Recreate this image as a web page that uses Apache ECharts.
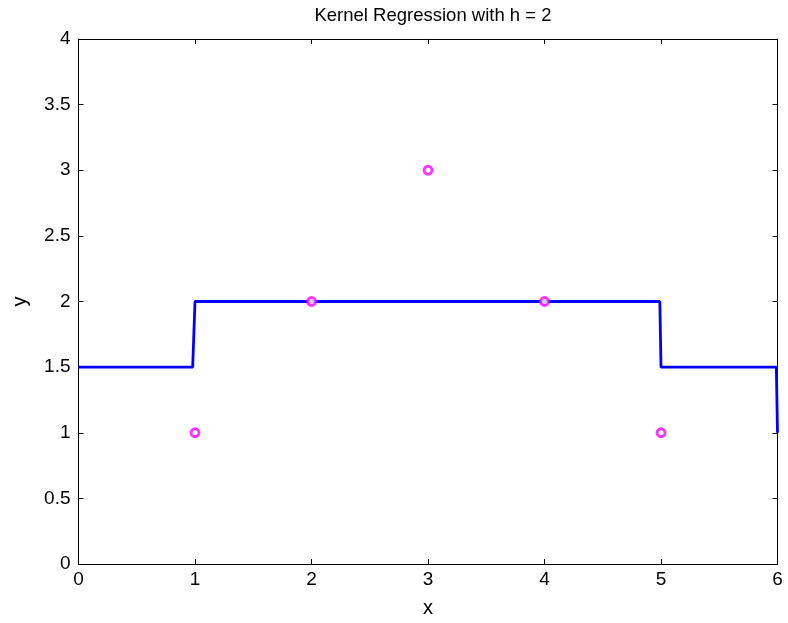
<!DOCTYPE html>
<html>
<head>
<meta charset="utf-8">
<script src="https://cdn.jsdelivr.net/npm/echarts@6/dist/echarts.min.js"></script>
<style>
  html, body { margin: 0; padding: 0; background: #fff; }
  #main { width: 788px; height: 623px; }
</style>
</head>
<body>
<div id="main"></div>
<script>
// data points (x, y)
var pointX = [1, 2, 3, 4, 5];
var pointY = [1, 2, 3, 2, 1];
// kernel regression curve
var curveX = [0, 0.98, 1, 4.99, 5, 5.99, 6];
var curveY = [1.5, 1.5, 2, 2, 1.5, 1.5, 1];

var font = "'Liberation Sans', Arial, Helvetica, sans-serif";

var chart = echarts.init(document.getElementById('main'));

var pts = pointX.map(function (x, i) { return [x, pointY[i]]; });
var curve = curveX.map(function (x, i) { return [x, curveY[i]]; });

function axisBase(show) {
  return {
    type: 'value',
    axisLine: { show: true, onZero: false, lineStyle: { color: '#000', width: 1 } },
    axisTick: { show: true, inside: true, length: 5, lineStyle: { color: '#000' } },
    splitLine: { show: false },
    axisLabel: { show: show, color: '#000', fontSize: 19, fontFamily: font }
  };
}

var option = {
  animation: false,
  backgroundColor: '#fff',
  title: {
    text: 'Kernel Regression with h = 2',
    left: 428,
    textAlign: 'center',
    top: 1,
    textStyle: { fontSize: 18.5, fontWeight: 'normal', color: '#000', fontFamily: font }
  },
  grid: { left: 78.5, right: 10.5, top: 39, bottom: 59, containLabel: false },
  xAxis: [
    Object.assign(axisBase(true), {
      min: 0, max: 6, interval: 1, position: 'bottom',
      name: 'x', nameLocation: 'middle', nameGap: 34,
      nameTextStyle: { fontSize: 20, color: '#000', fontFamily: font },
      axisLabel: { show: true, color: '#000', fontSize: 19, fontFamily: font, margin: 6 }
    }),
    Object.assign(axisBase(false), { min: 0, max: 6, interval: 1, position: 'top' })
  ],
  yAxis: [
    Object.assign(axisBase(true), {
      min: 0, max: 4, interval: 0.5, position: 'left',
      name: 'y', nameLocation: 'middle', nameGap: 48, nameRotate: 90,
      nameTextStyle: { fontSize: 20, color: '#000', fontFamily: font },
      axisLabel: { show: true, color: '#000', fontSize: 19, fontFamily: font, margin: 8 }
    }),
    Object.assign(axisBase(false), { min: 0, max: 4, interval: 0.5, position: 'right' })
  ],
  series: [
    {
      type: 'line',
      data: curve,
      showSymbol: false,
      symbol: 'none',
      lineStyle: { color: '#0000ff', width: 2.8 },
      z: 2
    },
    {
      type: 'scatter',
      data: pts,
      symbol: 'circle',
      symbolSize: 8,
      itemStyle: { color: '#fff', borderColor: '#ff00ff', borderWidth: 2.8 },
      z: 3
    }
  ]
};

chart.setOption(option);
</script>
</body>
</html>
